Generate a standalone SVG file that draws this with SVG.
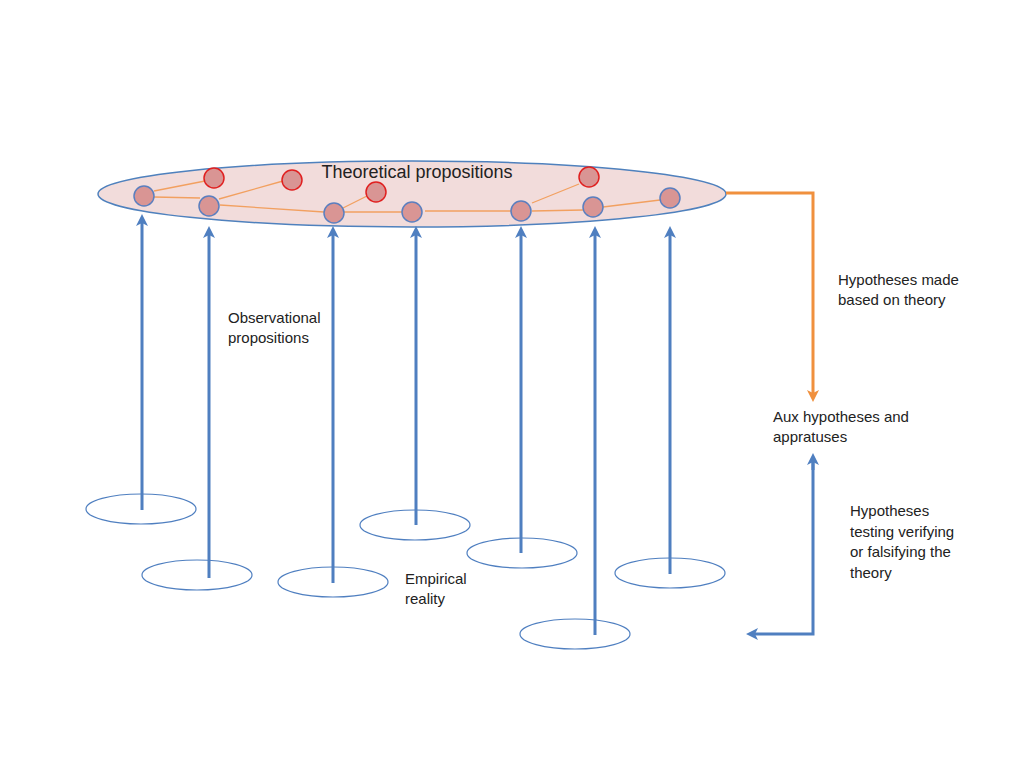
<svg xmlns="http://www.w3.org/2000/svg" width="1024" height="768" viewBox="0 0 1024 768">
<style>
.t{font-family:"Liberation Sans",Arial,sans-serif;font-size:15px;fill:#222}
.n{fill:#d99594;stroke:#5b7fbf;stroke-width:1.5}
.r{fill:#d99594;stroke:#e02020;stroke-width:1.5}
.o{stroke:#f2a060;stroke-width:1.3;fill:none}
.b{stroke:#4f7fc0;stroke-width:3;fill:none}
.e{fill:none;stroke:#4f7fc0;stroke-width:1.2}
</style>
<defs>
<marker id="ab" markerWidth="4" markerHeight="4" refX="2" refY="2" orient="auto" markerUnits="strokeWidth">
<path d="M0,0 L4,2 L0,4 L1,2 z" fill="#4f7fc0"/>
</marker>
<marker id="ao" markerWidth="4" markerHeight="4" refX="2" refY="2" orient="auto" markerUnits="strokeWidth">
<path d="M0,0 L4,2 L0,4 L1,2 z" fill="#f0903e"/>
</marker>
</defs>
<rect width="1024" height="768" fill="#fff"/>
<g id="theory">
<ellipse cx="412" cy="194" rx="314" ry="33" fill="#f2dcdb" stroke="#4f81bd" stroke-width="1.5"/>
<text class="t" x="417" y="178" text-anchor="middle" style="font-size:18px">Theoretical propositions</text>
</g>
<g id="links">
<line class="o" x1="154" y1="191" x2="205" y2="181"/>
<line class="o" x1="154" y1="197" x2="200" y2="198"/>
<line class="o" x1="219" y1="199" x2="283" y2="181"/>
<line class="o" x1="220" y1="205" x2="324" y2="212"/>
<line class="o" x1="343" y1="208" x2="367" y2="196"/>
<line class="o" x1="344" y1="212" x2="402" y2="212"/>
<line class="o" x1="425" y1="211" x2="511" y2="211"/>
<line class="o" x1="532" y1="203" x2="579" y2="184"/>
<line class="o" x1="532" y1="211" x2="583" y2="210"/>
<line class="o" x1="603" y1="207" x2="660" y2="200"/>
</g>
<g id="nodes">
<circle class="n" cx="144" cy="196" r="10"/>
<circle class="n" cx="209" cy="206" r="10"/>
<circle class="n" cx="334" cy="213" r="10"/>
<circle class="n" cx="412" cy="212" r="10"/>
<circle class="n" cx="521" cy="211" r="10"/>
<circle class="n" cx="593" cy="207" r="10"/>
<circle class="n" cx="670" cy="198" r="10"/>
<circle class="r" cx="214" cy="178" r="10"/>
<circle class="r" cx="292" cy="180" r="10"/>
<circle class="r" cx="376" cy="192" r="10"/>
<circle class="r" cx="589" cy="177" r="10"/>
</g>
<g id="reality">
<ellipse class="e" cx="141" cy="509" rx="55" ry="15"/>
<ellipse class="e" cx="197" cy="575" rx="55" ry="15"/>
<ellipse class="e" cx="333" cy="582" rx="55" ry="15"/>
<ellipse class="e" cx="415" cy="525" rx="55" ry="15"/>
<ellipse class="e" cx="522" cy="553" rx="55" ry="15"/>
<ellipse class="e" cx="670" cy="573" rx="55" ry="15"/>
<ellipse class="e" cx="575" cy="634" rx="55" ry="15"/>
</g>
<g id="connectors">
<line class="b" x1="142" y1="510" x2="142" y2="220" marker-end="url(#ab)"/>
<line class="b" x1="209" y1="578" x2="209" y2="232" marker-end="url(#ab)"/>
<line class="b" x1="333" y1="583" x2="333" y2="232" marker-end="url(#ab)"/>
<line class="b" x1="416" y1="525" x2="416" y2="232" marker-end="url(#ab)"/>
<line class="b" x1="521" y1="553" x2="521" y2="232" marker-end="url(#ab)"/>
<line class="b" x1="595" y1="635" x2="595" y2="232" marker-end="url(#ab)"/>
<line class="b" x1="670" y1="574" x2="670" y2="232" marker-end="url(#ab)"/>
<polyline points="726,193 813,193 813,396" fill="none" stroke="#f0903e" stroke-width="3" marker-end="url(#ao)"/>
<polyline class="b" points="813,459 813,634 752,634" marker-start="url(#ab)" marker-end="url(#ab)" style="marker-start:none"/>
<line class="b" x1="813" y1="470" x2="813" y2="459" marker-end="url(#ab)"/>
</g>
<g id="labels">
<text class="t" x="838" y="285">Hypotheses made</text>
<text class="t" x="838" y="305">based on theory</text>
<text class="t" x="228" y="323">Observational</text>
<text class="t" x="228" y="343">propositions</text>
<text class="t" x="773" y="422">Aux hypotheses and</text>
<text class="t" x="773" y="442">appratuses</text>
<text class="t" x="850" y="516">Hypotheses</text>
<text class="t" x="850" y="537">testing verifying</text>
<text class="t" x="850" y="557">or falsifying the</text>
<text class="t" x="850" y="578">theory</text>
<text class="t" x="405" y="584">Empirical</text>
<text class="t" x="405" y="604">reality</text>
</g>
</svg>
